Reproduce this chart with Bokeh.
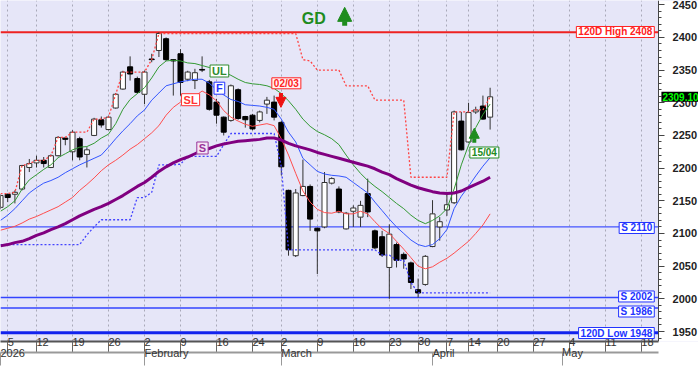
import numpy as np
from bokeh.plotting import figure
from bokeh.models import (Range1d, LinearAxis, FixedTicker, SingleIntervalTicker, Span, Label,
                          Arrow, NormalHead, BoxAnnotation)
from bokeh.embed import file_html
from bokeh.resources import INLINE

FONT = "Liberation Sans"

# ---------------- data (one value per trading session) ----------------
opens = [2140, 2160, 2160, 2168, 2201, 2208, 2212, 2201, 2219, 2246,
         2225, 2245, 2221, 2250, 2274, 2259, 2292, 2321, 2355, 2337,
         2313, 2367, 2380, 2398, 2366, 2375, 2336, 2334, 2351, 2332,
         2301, 2278, 2273, 2320, 2279, 2281, 2273, 2298, 2301, 2270,
         2166, 2066, 2158, 2172, 2108, 2110, 2177, 2168, 2107, 2134,
         2125, 2161, 2104, 2095, 2048, 2083, 2068, 2055, 2014, 2022,
         2080, 2110, 2136, 2147, 2272, 2240, 2286, 2295, 2278]
highs = [2160, 2161, 2166, 2205, 2214, 2219, 2217, 2221, 2249, 2248,
         2258, 2248, 2232, 2277, 2279, 2280, 2315, 2349, 2371, 2340,
         2349, 2375, 2408, 2400, 2367, 2382, 2349, 2352, 2371, 2335,
         2306, 2279, 2328, 2322, 2280, 2283, 2288, 2309, 2311, 2272,
         2167, 2168, 2213, 2175, 2109, 2194, 2186, 2172, 2133, 2143,
         2150, 2184, 2106, 2104, 2114, 2086, 2071, 2057, 2031, 2067,
         2151, 2125, 2161, 2288, 2286, 2300, 2294, 2311, 2323]
lows = [2137, 2148, 2146, 2166, 2194, 2201, 2201, 2200, 2218, 2235,
        2212, 2212, 2201, 2249, 2262, 2258, 2291, 2320, 2334, 2314,
        2298, 2362, 2370, 2364, 2311, 2311, 2333, 2321, 2347, 2288,
        2268, 2250, 2271, 2274, 2262, 2258, 2270, 2283, 2273, 2189,
        2066, 2064, 2157, 2104, 2038, 2108, 2175, 2131, 2106, 2110,
        2110, 2125, 2076, 2064, 2000, 2048, 2046, 2015, 2002, 2020,
        2079, 2089, 2127, 2145, 2227, 2239, 2283, 2274, 2259]
closes = [2158, 2155, 2163, 2204, 2207, 2212, 2207, 2219, 2247, 2244,
          2255, 2217, 2228, 2275, 2266, 2278, 2313, 2347, 2344, 2316,
          2347, 2366, 2406, 2366, 2364, 2331, 2347, 2346, 2350, 2290,
          2281, 2255, 2326, 2276, 2274, 2260, 2286, 2304, 2278, 2202,
          2075, 2162, 2172, 2122, 2104, 2178, 2184, 2133, 2131, 2139,
          2143, 2133, 2078, 2067, 2099, 2059, 2061, 2025, 2009, 2065,
          2130, 2118, 2144, 2286, 2228, 2285, 2289, 2275, 2309.10]

ul_line = [2134, 2141, 2150, 2168, 2182, 2190, 2198, 2205, 2216, 2222,
           2228, 2232, 2233, 2238, 2246, 2252, 2268, 2290, 2305, 2314,
           2323, 2338, 2355, 2364, 2365, 2364, 2361, 2360, 2357, 2354,
           2352, 2347, 2342, 2336, 2331, 2329, 2328, 2326, 2322, 2314,
           2303, 2290, 2275, 2264, 2256, 2251, 2245, 2236, 2220, 2205,
           2192, 2181, 2172, 2164, 2155, 2146, 2138, 2128, 2120, 2115,
           2120, 2127, 2138, 2168, 2205, 2235, 2262, 2282, 2298]
f_line = [2120, 2128, 2138, 2150, 2162, 2170, 2177, 2181, 2186, 2193,
          2199, 2205, 2210, 2215, 2220, 2232, 2245, 2257, 2268, 2280,
          2289, 2304, 2315, 2326, 2329, 2332, 2334, 2336, 2336, 2330,
          2320, 2312, 2305, 2302, 2297, 2296, 2295, 2293, 2290, 2275,
          2255, 2240, 2215, 2205, 2195, 2191, 2189, 2188, 2186, 2178,
          2170, 2162, 2148, 2135, 2122, 2110, 2100, 2090, 2083, 2080,
          2083, 2092, 2106, 2138, 2157, 2172, 2188, 2203, 2216]
sl_line = [2105, 2108, 2111, 2116, 2122, 2126, 2131, 2136, 2141, 2148,
           2155, 2166, 2175, 2185, 2196, 2205, 2212, 2220, 2229, 2236,
           2245, 2254, 2265, 2281, 2293, 2301, 2303, 2310, 2318, 2312,
           2303, 2288, 2278, 2272, 2267, 2264, 2266, 2268, 2265, 2245,
           2220, 2192, 2165, 2148, 2137, 2132, 2131, 2134, 2130, 2130,
           2134, 2130, 2118, 2107, 2100, 2088, 2076, 2063, 2050, 2046,
           2049, 2056, 2062, 2070, 2079, 2088, 2100, 2113, 2130]
s_line = [2081, 2083, 2086, 2088, 2092, 2097, 2101, 2106, 2110, 2115,
          2121, 2127, 2132, 2137, 2141, 2146, 2152, 2158, 2165, 2172,
          2178, 2186, 2195, 2202, 2208, 2213, 2217, 2222, 2227, 2230,
          2234, 2237, 2239, 2241, 2242, 2243, 2244, 2246, 2246, 2243,
          2238, 2234, 2231, 2228, 2224, 2221, 2218, 2215, 2212, 2209,
          2206, 2203, 2199, 2194, 2190, 2184, 2179, 2174, 2170, 2167,
          2164, 2162, 2161, 2162, 2165, 2170, 2175, 2180, 2186]
upper_channel = [2161, 2161, 2163, 2204, 2207, 2212, 2212, 2219, 2247, 2247,
                 2255, 2255, 2255, 2275, 2275, 2278, 2313, 2347, 2347, 2347,
                 2347, 2366, 2406, 2406, 2406, 2406, 2406, 2406, 2406, 2406,
                 2406, 2406, 2406, 2406, 2406, 2406, 2406, 2406, 2406, 2406,
                 2406, 2406, 2366, 2364, 2350, 2350, 2350, 2350, 2326, 2326,
                 2326, 2326, 2304, 2304, 2304, 2304, 2304, 2186, 2186, 2186,
                 2186, 2186, 2186, 2286, 2286, 2286, 2289, 2289, 2309.10]
lower_channel = [2083, 2083, 2083, 2083, 2083, 2083, 2083, 2083, 2083, 2083,
                 2083, 2083, 2098, 2110, 2121, 2121, 2121, 2121, 2121, 2155,
                 2155, 2163, 2205, 2205, 2205, 2206, 2218, 2218, 2218, 2218,
                 2218, 2236, 2253, 2253, 2253, 2253, 2253, 2253, 2253, 2202,
                 2075, 2075, 2075, 2075, 2075, 2075, 2075, 2075, 2075, 2075,
                 2075, 2075, 2075, 2067, 2067, 2059, 2059, 2025, 2009, 2009,
                 2009, 2009, 2009, 2009, 2009, 2009, 2009, 2009, 2009]

day_ticks = [1, 5, 10, 15, 20, 25, 30, 35, 39, 44, 49, 54, 58, 62, 65, 69, 74, 79, 84, 89]
day_labels = ["5", "12", "19", "26", "2", "9", "16", "24", "2", "9",
              "16", "23", "30", "7", "14", "20", "27", "4", "11", "18"]
month_ticks = [0, 20, 39, 60, 78]
month_labels = ["2026", "February", "March", "April", "May"]

level_values = [2408, 2110, 2002, 1986, 1948]
level_texts = ["120D High 2408", "S 2110", "S 2002", "S 1986", "120D Low 1948"]
last_price = 2309.10

# ---------------- layout constants ----------------
X_END = 96.94        # full frame width in sessions (698 px)
AXIS_X = 91.39       # where the price axis sits (658 px)

n = len(closes)
xs = np.arange(n)
o = np.array(opens, float); c = np.array(closes, float)
h = np.array(highs, float); l = np.array(lows, float)
up = c >= o

p = figure(width=698, height=367, output_backend="svg", toolbar_location=None,
           x_range=Range1d(0, X_END), y_range=Range1d(1934.7, 2456.5),
           x_axis_location="below", y_axis_location="right",
           min_border_left=0, min_border_top=0, min_border_right=0, min_border_bottom=26,
           background_fill_color="#e6e6f8", border_fill_color="white", outline_line_color=None)

p.ygrid.grid_line_color = None
p.xgrid.ticker = FixedTicker(ticks=day_ticks)
p.xgrid.grid_line_color = "#a8a8b8"
p.xgrid.grid_line_dash = "2 3"

# y axis (drawn at the right edge of the chart area)
ya = p.yaxis[0]
ya.fixed_location = AXIS_X
ya.level = "annotation"
ya.ticker = SingleIntervalTicker(interval=50, num_minor_ticks=5)
ya.major_label_text_font = FONT
ya.major_label_text_font_size = "11px"
ya.major_label_text_font_style = "bold"
ya.major_label_text_color = "#222222"
ya.axis_line_color = "#444444"
ya.major_tick_line_color = "#444444"
ya.minor_tick_line_color = "#444444"
ya.major_tick_in = 0
ya.major_tick_out = 6
ya.minor_tick_in = 0
ya.minor_tick_out = 3
ya.major_label_standoff = 8

# day row
xa = p.xaxis[0]
xa.bounds = (0, AXIS_X)
xa.ticker = FixedTicker(ticks=day_ticks)
xa.major_label_overrides = {t: s for t, s in zip(day_ticks, day_labels)}
xa.major_label_orientation = -1e-4
xa.major_tick_in = 0
xa.major_tick_out = 11
xa.minor_tick_out = 0
xa.major_label_standoff = -11
xa.axis_line_color = "#555555"
xa.axis_line_width = 2
xa.major_tick_line_color = "#666666"
xa.major_label_text_font = FONT
xa.major_label_text_font_size = "11px"
xa.major_label_text_color = "#333333"

# month row
ma = LinearAxis(ticker=FixedTicker(ticks=month_ticks), bounds=(0, AXIS_X),
                major_label_overrides={t: s for t, s in zip(month_ticks, month_labels)})
ma.major_label_orientation = -1e-4
ma.major_tick_in = 0
ma.major_tick_out = 13
ma.minor_tick_out = 0
ma.major_label_standoff = -13
ma.axis_line_color = "#999999"
ma.axis_line_width = 2
ma.major_tick_line_color = "#999999"
ma.major_label_text_font = FONT
ma.major_label_text_font_size = "11px"
ma.major_label_text_color = "#333333"
p.add_layout(ma, "below")

# horizontal levels
level_colors = ["#ee2222", "#4455ff", "#3344ff", "#3344ff", "#1122ee"]
level_widths = [2, 1.2, 1.6, 1.6, 3]
for v, col, w in zip(level_values, level_colors, level_widths):
    p.add_layout(Span(location=v, dimension="width", line_color=col, line_width=w, level="underlay"))

# white strip behind the price scale
p.add_layout(BoxAnnotation(left=AXIS_X, fill_color="white", fill_alpha=1.0,
                           line_color=None, level="underlay"))

# candles
p.segment(xs, l, xs, h, line_color="#333333", line_width=1)
p.vbar(x=xs[up], width=0.7, top=c[up], bottom=o[up], fill_color="white", line_color="#333333", line_width=1)
p.vbar(x=xs[~up], width=0.7, top=o[~up], bottom=c[~up], fill_color="black", line_color="black", line_width=1)

# channels and averages
p.line(xs, upper_channel, line_color="#ff4444", line_width=1.3, line_dash="2 2")
p.line(xs, lower_channel, line_color="#4444ff", line_width=1.3, line_dash="2 2")
p.line(xs, sl_line, line_color="#ff4d4d", line_width=1)
p.line(xs, f_line, line_color="#3355ff", line_width=1)
p.line(xs, ul_line, line_color="#339933", line_width=1)
p.line(xs, s_line, line_color="#800080", line_width=3)


def tag(text, x, y, color, bg="white", align="center", size="10px"):
    p.add_layout(Label(x=x, y=y, text=text, text_color=color, text_font=FONT,
                       text_font_size=size, text_font_style="bold", text_align=align,
                       text_baseline="middle", background_fill_color=bg,
                       border_line_color=color, border_line_width=1, padding=(2, 0)))


label_colors = ["#ff2222", "#2233ff", "#2233ff", "#2233ff", "#2233ff"]
label_y = [2408.3, 2108.4, 2003.6, 1980.6, 1947.7]
for ly, t, col in zip(label_y, level_texts, label_colors):
    tag(t, 90.8, ly, col, align="right")

tag("UL", 30.4, 2348.6, "#2e8b2e", size="11px")
tag("F", 30.4, 2322.3, "#2233ff", size="11px")
tag("SL", 26.4, 2304.7, "#ff3333", size="11px")
tag("S", 28.05, 2230.8, "#993399", bg="#f6e6f6", size="11px")
tag("02/03", 39.7, 2329.8, "#ff2222", bg="#fff4f4", size="10px")
tag("15/04", 67.2, 2223.9, "#228b22", size="10px")

p.add_layout(Label(x=43.5, y=2429.7, text="GD", text_color="#1e8c1e", text_font=FONT,
                   text_font_size="16px", text_font_style="bold", text_align="center",
                   text_baseline="middle"))

# price tag over the axis
p.add_layout(Label(x=AXIS_X + 0.4, y=last_price, text=f"{last_price:.2f}", text_color="#00ff00",
                   text_font=FONT, text_font_size="10px", text_font_style="bold",
                   text_align="left", text_baseline="middle", background_fill_color="black",
                   padding=(1, 1), level="overlay"))

# arrows
p.add_layout(Arrow(end=NormalHead(size=14, fill_color="#1e8c1e", line_color="#1e8c1e"),
                   x_start=47.8, y_start=2418, x_end=47.8, y_end=2446,
                   line_color="#1e8c1e", line_width=5))
p.add_layout(Arrow(end=NormalHead(size=10, fill_color="#ee1111", line_color="#ee1111"),
                   x_start=38.95, y_start=2315, x_end=38.95, y_end=2293,
                   line_color="#ee1111", line_width=4))
p.add_layout(Arrow(end=NormalHead(size=10, fill_color="#1e8c1e", line_color="#1e8c1e"),
                   x_start=65.8, y_start=2239, x_end=65.8, y_end=2261,
                   line_color="#1e8c1e", line_width=4))

open("out.html", "w").write(file_html(p, INLINE))
